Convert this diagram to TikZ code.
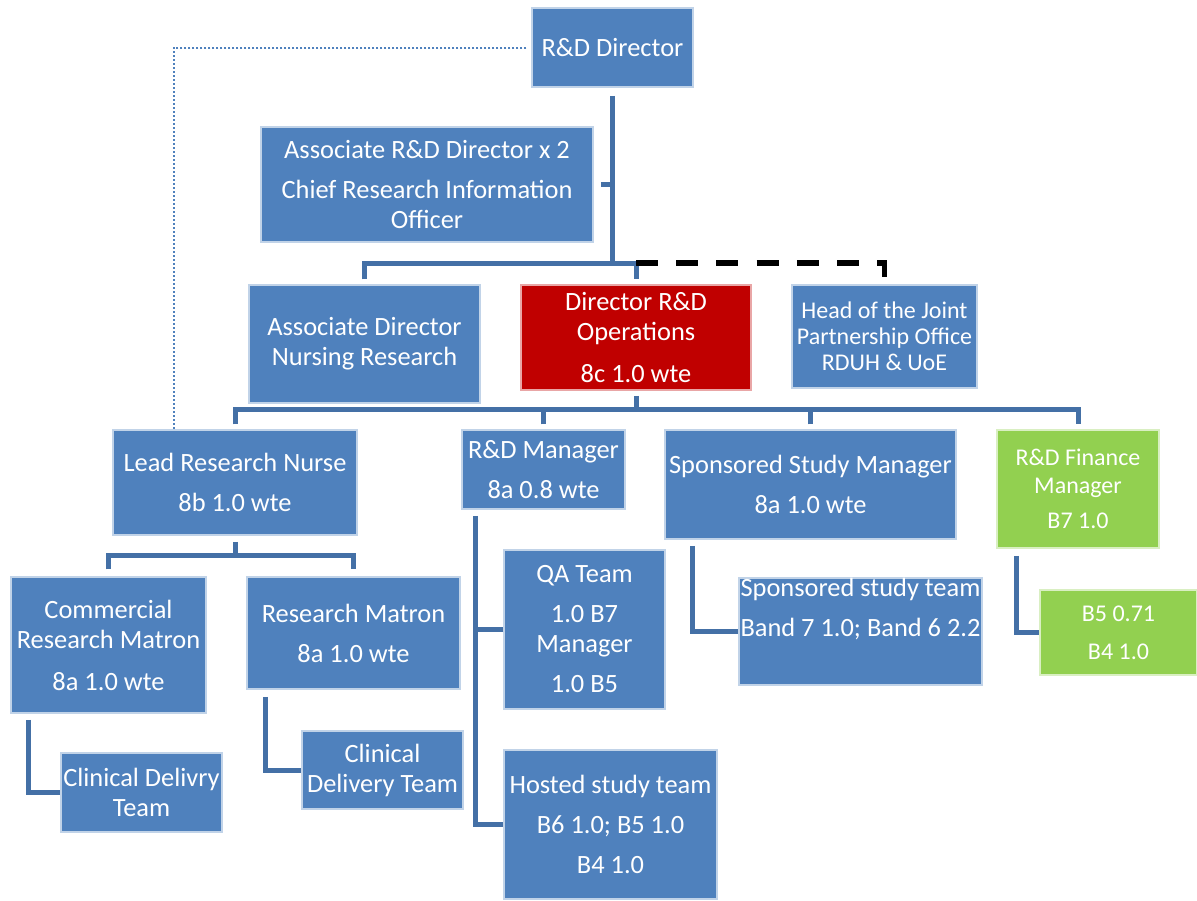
\documentclass[tikz,border=0pt]{standalone}
\usepackage{fontspec}
\setmainfont{Carlito}
\usepackage{tikz}
\definecolor{boxblue}{RGB}{79,129,189}
\definecolor{opsred}{RGB}{192,0,0}
\definecolor{fingreen}{RGB}{146,208,80}
\definecolor{linkblue}{RGB}{68,112,166}
\tikzstyle{post} = [rectangle, draw=white!65!boxblue, line width=1.5pt, fill=boxblue, text=white, align=center, inner sep=0pt, font=\fontsize{26.4}{30}\selectfont]
\tikzstyle{opsbox} = [post, fill=opsred, draw=white!65!opsred]
\tikzstyle{finbox} = [post, fill=fingreen, draw=white!65!fingreen, font=\fontsize{24}{28}\selectfont]
\tikzstyle{link} = [line width=5pt, draw=linkblue]
\tikzstyle{dashlink} = [line width=5.5pt, draw=black, dash pattern=on 22pt off 18.2pt]
\tikzstyle{dotlink} = [line width=2pt, draw=boxblue, dash pattern=on 2pt off 2pt]

\begin{document}
\begin{tikzpicture}[x=1pt,y=-1pt]
\fill [white] (0,0) rectangle (1197,900);
\useasboundingbox (0,0) rectangle (1197,900);

% top
\node (dir)     [post, minimum width=161pt, minimum height=79pt] at (612.5,47.5) {R\&D Director};
\node (assoc)   [post, minimum width=332pt, minimum height=115pt] at (427,184.5) {Associate R\&D Director x 2\\[10pt]Chief Research Information\\Officer};
\node (nursing) [post, minimum width=231pt, minimum height=118pt] at (364.5,344) {Associate Director\\Nursing Research};
\node (dirops)  [opsbox, minimum width=230pt, minimum height=105pt] at (636,337.5) {Director R\&D\\Operations\\[12pt]8c 1.0 wte};
\node (jpo)     [post, minimum width=185pt, minimum height=103pt, font=\fontsize{24}{26}\selectfont] at (884.5,336.5) {Head of the Joint\\Partnership Office\\RDUH \& UoE};

% managers
\node (lrn) [post, minimum width=244pt, minimum height=105pt] at (235,482.5) {Lead Research Nurse\\[10pt]8b 1.0 wte};
\node (rdm) [post, minimum width=163pt, minimum height=79pt] at (543.5,469.5) {R\&D Manager\\[10pt]8a 0.8 wte};
\node (ssm) [post, minimum width=291pt, minimum height=109pt] at (810.5,484.5) {Sponsored Study Manager\\[10pt]8a 1.0 wte};
\node (rfm) [finbox, minimum width=162pt, minimum height=118pt] at (1078,489) {R\&D Finance\\Manager\\[7pt]B7 1.0};

% teams
\node (crm)  [post, minimum width=195pt, minimum height=136pt] at (108.5,645) {Commercial\\Research Matron\\[12pt]8a 1.0 wte};
\node (rm)   [post, minimum width=213pt, minimum height=112pt] at (353.5,633) {Research Matron\\[10pt]8a 1.0 wte};
\node (cdt1) [post, minimum width=161pt, minimum height=79pt] at (141.5,792.5) {Clinical Delivry\\Team};
\node (cdt2) [post, minimum width=161pt, minimum height=78pt] at (382.5,770) {Clinical\\Delivery Team};
\node (qa)   [post, minimum width=161pt, minimum height=159pt] at (584.5,629.5) {QA Team\\[10pt]1.0 B7\\Manager\\[10pt]1.0 B5};
\node (hst)  [post, minimum width=213pt, minimum height=149pt] at (610.5,824.5) {Hosted study team\\[10pt]B6 1.0; B5 1.0\\[10pt]B4 1.0};
\node (sst)  [post, minimum width=243pt, minimum height=105pt] at (860.5,631.5) {Sponsored study team\\[10pt]Band 7 1.0; Band 6 2.2\\[10pt]\strut};
\node (b5)   [finbox, minimum width=157pt, minimum height=85pt] at (1118.5,632.5) {B5 0.71\\[10pt]B4 1.0};

% links
\draw [dotlink] ([xshift=-5pt]dir.west) -| (lrn.north -| 174,0);
\draw [link] ([yshift=-8pt]dir.south) -- (dir.south |- 0,263);
\draw [link] ([xshift=7pt]assoc.east) -- (assoc.east -| dir.south);
\draw [link] ([yshift=5pt]nursing.north) |- (dirops.north |- 0,263) -- ([yshift=5pt]dirops.north);
\draw [dashlink] (dirops.north |- 0,263) -| ([yshift=7pt]jpo.north);

\draw [link] ([yshift=-5pt]dirops.south) -- (dirops.south |- 0,409);
\draw [link] ([yshift=5pt]lrn.north) |- (rfm.north |- 0,409) -- ([yshift=5pt]rfm.north);
\draw [link] ([yshift=5pt]rdm.north) -- (rdm.north |- 0,409);
\draw [link] ([yshift=5pt]ssm.north) -- (ssm.north |- 0,409);

\draw [link] ([yshift=-6pt]lrn.south) -- (lrn.south |- 0,555);
\draw [link] ([yshift=7pt]crm.north) |- (rm.north |- 0,555) -- ([yshift=7pt]rm.north);
\draw [link] ([xshift=-80.5pt,yshift=-6pt]crm.south) |- (cdt1.west);
\draw [link] ([xshift=-88.5pt,yshift=-7pt]rm.south) |- (cdt2.west);

\draw [link] ([xshift=-68.5pt,yshift=-6pt]rdm.south) |- (hst.west);
\draw [link] (qa.west) -- (qa.west -| 475,0);
\draw [link] ([xshift=-118.5pt,yshift=-6pt]ssm.south) |- (sst.west);
\draw [link] ([xshift=-62pt,yshift=-7pt]rfm.south) |- (b5.west);
\end{tikzpicture}
\end{document}
